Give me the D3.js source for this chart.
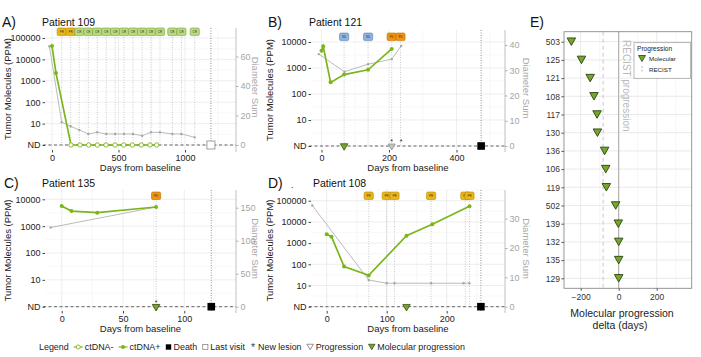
<!DOCTYPE html>
<html><head><meta charset="utf-8">
<script src="https://cdn.jsdelivr.net/npm/d3@7"></script>
<style>
body{margin:0;background:#fff}
svg{display:block}
text{font-family:"Liberation Sans",Arial,Helvetica,sans-serif}
</style>
</head><body>
<svg id="c" width="701" height="357"></svg>
<script>
// ---------------- DATA ----------------
const ctTicks = [1, 10, 100, 1000, 10000, 100000]; // 1 = ND

// Patient 109 (A)
const aCtDays = [0, 30, 143, 211, 276, 341, 406, 474, 539, 604, 671, 737, 787];
const aCtVals = [42000, 2300, 0, 0, 0, 0, 0, 0, 0, 0, 0, 0, 0];
const aDiamDays = [-20, 73, 140, 205, 273, 340, 408, 475, 541, 609, 677, 744, 812, 905, 973, 1073];
const aDiamVals = [67, 15.4, 12.7, 10.2, 7.5, 8.6, 7.5, 7.5, 7.5, 7.5, 6.3, 8.6, 8.6, 7.5, 7.5, 5.2];
const aRespDays = [73, 140, 205, 273, 340, 408, 475, 541, 609, 677, 744, 812, 905, 973, 1073];
const aResp = ["PR","PR","CR","CR","CR","CR","CR","CR","CR","CR","CR","CR","CR","CR","CR"];
const aXTicks = [0, 500, 1000];
const aRTicks = [0, 20, 40, 60];
const aLastVisit = 1195;

// Patient 121 (B)
const bCtDays = [0, 5, 27, 67, 138, 208];
const bCtVals = [4650, 6900, 280, 560, 850, 5400];
const bDiamDays = [-8, 68, 138, 208, 236];
const bDiamVals = [36.4, 29.4, 32.4, 34.4, 39.6];
const bRespDays = [67, 138, 208, 234];
const bResp = ["SD","SD","PD","PD"];
const bMolProg = [67];
const bProg = [208];
const bNewLesion = [208, 236];
const bDeath = 473;
const bXTicks = [0, 200, 400];
const bRTicks = [0, 10, 20, 30, 40];

// Patient 135 (C)
const cCtDays = [0, 8, 29, 77];
const cCtVals = [5600, 3650, 3170, 5170];
const cDiamDays = [-9, 77];
const cDiamVals = [120, 151];
const cRespDays = [77];
const cResp = ["PD"];
const cMolProg = [77];
const cProg = [77];
const cNewLesion = [77];
const cDeath = 122;
const cXTicks = [0, 50, 100];
const cRTicks = [0, 50, 100, 150];

// Patient 108 (D)
const dCtDays = [0, 8, 29, 70, 133, 176, 238];
const dCtVals = [2600, 2000, 78, 30, 2240, 7700, 55000];
const dDiamDays = [-24, 70, 100, 113, 174, 228, 238];
const dDiamVals = [34.5, 9.1, 8, 8, 8, 8, 8];
const dRespDays = [70, 100, 113, 174, 231, 238];
const dResp = ["PR","PR","PR","PR","PR","PR"];
const dMolProg = [133];
const dDeath = 257;
const dXTicks = [0, 100, 200];
const dRTicks = [0, 10, 20, 30];

// Panel E
const eIds = ["503","125","121","108","117","130","136","106","119","502","139","132","135","129"];
const eDelta = [-249, -196, -150, -130, -114, -112, -74, -68, -65, -16, -2, 0, 0, 0];
const eRecistMedian = -82;
const eXTicks = [-200, 0, 200];
const eXMinor = [-300, -100, 100, 300];

// Bottom legend entries
const legendItems = ["ctDNA-", "ctDNA+", "Death", "Last visit", "New lesion", "Progression", "Molecular progression"];
const legendSyms = ["neg", "pos", "death", "last", "ast", "prog", "mol"];

// ---------------- STYLE ----------------
const GREEN = "#7cb51b", TRI = "#74a82a";
const respFill = {PR:"#eab717", CR:"#b9da7c", SD:"#8db2dd", PD:"#f0930f"};
const respStroke = {PR:"#b38600", CR:"#76a237", SD:"#5a82b0", PD:"#bf6800"};
const FONT = "Liberation Sans, Arial, sans-serif";
const fmt = d3.format("d");

const svg = d3.select("#c");

function triPath(w, h){ return `M${-w/2},${-h/2}L${w/2},${-h/2}L0,${h/2}Z`; }

function panel(o){
  const g = svg.append("g");
  const {xs, ys, rs, left, right, top, bottom} = o;
  const nd = ys(1);
  const xt = o.xTicks, step = xt[1]-xt[0];
  const xMinor = d3.range(xt[0]-step*1.5, xt[xt.length-1]+step*2, step).filter(v=>xs(v)>left && xs(v)<right);
  g.selectAll(".xm").data(xMinor).join("line").attr("x1",d=>xs(d)).attr("x2",d=>xs(d))
    .attr("y1",top).attr("y2",bottom).attr("stroke","#f3f3f3").attr("stroke-width",0.6);
  const yMinor = ctTicks.map(v=>v*Math.sqrt(10)).filter(v=>ys(v)>top);
  g.selectAll(".ym").data(yMinor).join("line").attr("x1",left).attr("x2",right)
    .attr("y1",d=>ys(d)).attr("y2",d=>ys(d)).attr("stroke","#f3f3f3").attr("stroke-width",0.6);
  g.selectAll(".xg").data(xt).join("line").attr("x1",d=>xs(d)).attr("x2",d=>xs(d))
    .attr("y1",top).attr("y2",bottom).attr("stroke","#e6e6e6").attr("stroke-width",0.7);
  g.selectAll(".yg").data(o.yTicks).join("line").attr("x1",left).attr("x2",right)
    .attr("y1",d=>ys(d)).attr("y2",d=>ys(d)).attr("stroke","#e6e6e6").attr("stroke-width",0.7);

  g.selectAll(".rl").data(o.respDays).join("line").attr("x1",d=>xs(d)).attr("x2",d=>xs(d))
    .attr("y1",o.badgeY).attr("y2",nd).attr("stroke","#b5b5b5").attr("stroke-width",0.7).attr("stroke-dasharray","1,1.5");
  if(o.endDay!=null){
    g.append("line").attr("x1",xs(o.endDay)).attr("x2",xs(o.endDay)).attr("y1",top).attr("y2",bottom)
      .attr("stroke","#777").attr("stroke-width",0.8).attr("stroke-dasharray","1,1.5");
  }
  g.append("line").attr("x1",left-2).attr("x2",right).attr("y1",nd).attr("y2",nd)
    .attr("stroke","#666").attr("stroke-width",1).attr("stroke-dasharray","3,2.5");

  const ax = g.append("g").attr("transform",`translate(${left},0)`)
    .call(d3.axisLeft(ys).tickValues(o.yTicks).tickFormat(d=>d===1?"ND":fmt(d)).tickSize(2.5).tickPadding(2));
  ax.select(".domain").remove();
  ax.selectAll("text").attr("font-size",9).attr("fill","#222").style("font-family",FONT);
  ax.selectAll("line").attr("stroke","#444");
  const bx = g.append("g").attr("transform",`translate(0,${bottom})`)
    .call(d3.axisBottom(xs).tickValues(xt).tickFormat(fmt).tickSize(2.5).tickPadding(2));
  bx.select(".domain").remove();
  bx.selectAll("text").attr("font-size",9).attr("fill","#222").style("font-family",FONT);
  bx.selectAll("line").attr("stroke","#444");
  g.append("line").attr("x1",right).attr("x2",right).attr("y1",top).attr("y2",bottom+2).attr("stroke","#b0b0b0").attr("stroke-width",0.8);
  const rx = g.append("g").attr("transform",`translate(${right},0)`)
    .call(d3.axisRight(rs).tickValues(o.rTicks).tickFormat(fmt).tickSize(2.5).tickPadding(2));
  rx.select(".domain").remove();
  rx.selectAll("text").attr("font-size",9).attr("fill","#a5a5a5").style("font-family",FONT);
  rx.selectAll("line").attr("stroke","#b0b0b0");

  g.append("text").attr("transform",`translate(${o.ytX},${(top+bottom)/2}) rotate(-90)`).attr("text-anchor","middle")
    .attr("font-size",9.5).attr("fill","#222").text("Tumor Molecules (PPM)");
  g.append("text").attr("transform",`translate(${o.rtX},${(top+bottom)/2-2}) rotate(90)`).attr("text-anchor","middle")
    .attr("font-size",9.5).attr("fill","#a8a8a8").text("Diameter Sum");
  g.append("text").attr("x",(left+right)/2).attr("y",bottom+21).attr("text-anchor","middle")
    .attr("font-size",9.5).attr("fill","#222").text("Days from baseline");
  g.append("text").attr("x",o.lblX).attr("y",o.titleY+1).attr("font-size",14).attr("fill","#111").text(o.label);
  g.append("text").attr("x",o.titleX).attr("y",o.titleY).attr("font-size",10.5).attr("fill","#111").text(o.title);

  const dd = o.diamDays.map((d,i)=>[d,o.diamVals[i]]);
  g.append("path").datum(dd).attr("fill","none").attr("stroke","#b3b3b3").attr("stroke-width",0.9)
    .attr("d",d3.line().x(d=>xs(d[0])).y(d=>rs(d[1])));
  g.selectAll(".dp").data(dd).join("circle").attr("cx",d=>xs(d[0])).attr("cy",d=>rs(d[1])).attr("r",1.2).attr("fill","#a8a8a8");

  const cd = o.ctDays.map((d,i)=>[d,o.ctVals[i]]);
  const cy = v => v>0 ? ys(v) : nd;
  g.append("path").datum(cd).attr("fill","none").attr("stroke",GREEN).attr("stroke-width",1.7)
    .attr("d",d3.line().x(d=>xs(d[0])).y(d=>cy(d[1])));
  g.selectAll(".cp").data(cd).join("circle").attr("cx",d=>xs(d[0])).attr("cy",d=>cy(d[1]))
    .attr("r",d=>d[1]>0?2:2.2).attr("fill",d=>d[1]>0?GREEN:"#fff").attr("stroke",GREEN).attr("stroke-width",d=>d[1]>0?0:0.9);

  (o.prog||[]).forEach(d=>{
    g.append("path").attr("transform",`translate(${xs(d)},${nd+1})`).attr("d",triPath(7,6)).attr("fill","#c4c4c4").attr("stroke","#888").attr("stroke-width",0.7);
  });
  (o.molProg||[]).forEach(d=>{
    g.append("path").attr("transform",`translate(${xs(d)},${nd+1})`).attr("d",triPath(7.5,6.5)).attr("fill",TRI).attr("stroke","#3b5215").attr("stroke-width",0.8);
  });
  (o.newLesion||[]).forEach(d=>{
    g.append("text").attr("x",xs(d)).attr("y",nd-2).attr("text-anchor","middle").attr("font-size",7).attr("fill","#222").text("*");
  });
  if(o.death!=null){
    g.append("rect").attr("x",xs(o.death)-3.8).attr("y",nd-3.8).attr("width",7.6).attr("height",7.6).attr("fill","#000");
  }
  if(o.lastVisit!=null){
    g.append("rect").attr("x",xs(o.lastVisit)-4).attr("y",nd-4).attr("width",8).attr("height",8).attr("fill","#fff").attr("stroke","#888").attr("stroke-width",0.8);
  }
  const bg = g.selectAll(".bd").data(o.respDays.map((d,i)=>[d,o.resp[i]])).join("g")
    .attr("transform",d=>`translate(${xs(d[0])},${o.badgeY})`);
  bg.append("rect").attr("x",-4.6).attr("y",-4).attr("width",9.2).attr("height",7.6).attr("rx",1.5)
    .attr("fill",d=>respFill[d[1]]).attr("stroke",d=>respStroke[d[1]]).attr("stroke-width",0.6);
  bg.append("text").attr("y",1.1).attr("text-anchor","middle").attr("font-size",3).attr("fill","#333").text(d=>d[1]);
}

panel({label:"A)", lblX:2, title:"Patient 109", titleX:42, titleY:26,
  left:45, right:236, top:28, bottom:150, badgeY:32, ytX:11, rtX:252,
  xs:d3.scaleLinear().domain([0,1000]).range([52,185]),
  ys:d3.scaleLog().domain([1,100000]).range([145,38]),
  rs:d3.scaleLinear().domain([0,60]).range([145,56.5]),
  xTicks:aXTicks, yTicks:ctTicks, rTicks:aRTicks,
  ctDays:aCtDays, ctVals:aCtVals, diamDays:aDiamDays, diamVals:aDiamVals,
  respDays:aRespDays, resp:aResp, endDay:aLastVisit, lastVisit:aLastVisit});

panel({label:"B)", lblX:268, title:"Patient 121", titleX:309, titleY:26,
  left:311, right:505, top:30, bottom:150, badgeY:37, ytX:273, rtX:523,
  xs:d3.scaleLinear().domain([0,400]).range([321.5,456.5]),
  ys:d3.scaleLog().domain([1,10000]).range([146,42]),
  rs:d3.scaleLinear().domain([0,40]).range([146,45]),
  xTicks:bXTicks, yTicks:ctTicks.slice(0,5), rTicks:bRTicks,
  ctDays:bCtDays, ctVals:bCtVals, diamDays:bDiamDays, diamVals:bDiamVals,
  respDays:bRespDays, resp:bResp, endDay:bDeath, death:bDeath,
  molProg:bMolProg, prog:bProg, newLesion:bNewLesion});

panel({label:"C)", lblX:4, title:"Patient 135", titleX:42, titleY:187,
  left:45, right:236, top:190, bottom:311, badgeY:196, ytX:11, rtX:252,
  xs:d3.scaleLinear().domain([0,100]).range([61.7,184.3]),
  ys:d3.scaleLog().domain([1,10000]).range([306.7,199.3]),
  rs:d3.scaleLinear().domain([0,150]).range([306.7,207.7]),
  xTicks:cXTicks, yTicks:ctTicks.slice(0,5), rTicks:cRTicks,
  ctDays:cCtDays, ctVals:cCtVals, diamDays:cDiamDays, diamVals:cDiamVals,
  respDays:cRespDays, resp:cResp, endDay:cDeath, death:cDeath,
  prog:cProg, molProg:cMolProg, newLesion:cNewLesion});

panel({label:"D)", lblX:268, title:"Patient 108", titleX:313, titleY:187,
  left:311, right:505, top:190, bottom:311, badgeY:196, ytX:273, rtX:523,
  xs:d3.scaleLinear().domain([0,200]).range([326.7,446.7]),
  ys:d3.scaleLog().domain([1,100000]).range([306.7,200.7]),
  rs:d3.scaleLinear().domain([0,30]).range([306.7,218.7]),
  xTicks:dXTicks, yTicks:ctTicks, rTicks:dRTicks,
  ctDays:dCtDays, ctVals:dCtVals, diamDays:dDiamDays, diamVals:dDiamVals,
  respDays:dRespDays, resp:dResp, endDay:dDeath, death:dDeath,
  molProg:dMolProg});
svg.append("text").attr("x",291).attr("y",188).attr("font-size",9).attr("fill","#333").text(".");

// ---------------- PANEL E ----------------
(function(){
  const L=564, R=691.7, T=31.7, B=288.3;
  const g = svg.append("g");
  const xs = d3.scaleLinear().domain([-200,200]).range([580.7,656.7]);
  const ys = d3.scalePoint().domain(eIds).range([41.7,278.3]);
  g.selectAll(".xm").data(eXMinor).join("line").attr("x1",d=>xs(d)).attr("x2",d=>xs(d)).attr("y1",T).attr("y2",B).attr("stroke","#f2f2f2").attr("stroke-width",0.7);
  g.selectAll(".xg").data(eXTicks).join("line").attr("x1",d=>xs(d)).attr("x2",d=>xs(d)).attr("y1",T).attr("y2",B).attr("stroke","#e4e4e4").attr("stroke-width",0.8);
  g.selectAll(".yg").data(eIds).join("line").attr("x1",L).attr("x2",R).attr("y1",d=>ys(d)).attr("y2",d=>ys(d)).attr("stroke","#e4e4e4").attr("stroke-width",0.8);
  g.append("line").attr("x1",xs(eRecistMedian)).attr("x2",xs(eRecistMedian)).attr("y1",T).attr("y2",B)
    .attr("stroke","#c8c8c8").attr("stroke-width",1).attr("stroke-dasharray","4,3");
  g.append("line").attr("x1",xs(0)).attr("x2",xs(0)).attr("y1",T).attr("y2",B).attr("stroke","#a8a8a8").attr("stroke-width",1);
  g.append("text").attr("transform",`translate(${xs(0)+4},40) rotate(90)`).attr("font-size",10).attr("fill","#b8b8b8").text("RECIST progression");
  g.append("rect").attr("x",L).attr("y",T).attr("width",R-L).attr("height",B-T).attr("fill","none").attr("stroke","#8a8a8a").attr("stroke-width",0.9);
  g.selectAll(".tr").data(eIds.map((id,i)=>[id,eDelta[i]])).join("path")
    .attr("transform",d=>`translate(${xs(d[1])},${ys(d[0])})`).attr("d",triPath(8.5,7.5))
    .attr("fill",TRI).attr("stroke","#2e3f10").attr("stroke-width",0.9);
  const ay = g.append("g").attr("transform",`translate(${L},0)`).call(d3.axisLeft(ys).tickSize(2.5).tickPadding(1.5));
  ay.select(".domain").remove();
  ay.selectAll("text").attr("font-size",8.5).attr("fill","#333").style("font-family",FONT);
  ay.selectAll("line").attr("stroke","#555");
  const axb = g.append("g").attr("transform",`translate(0,${B})`).call(d3.axisBottom(xs).tickValues(eXTicks).tickSize(2.5).tickPadding(3).tickFormat(d=>d<0?"\u2212"+Math.abs(d):fmt(d)));
  axb.select(".domain").remove();
  axb.selectAll("text").attr("font-size",8.5).attr("fill","#333").style("font-family",FONT);
  axb.selectAll("line").attr("stroke","#555");
  g.append("text").attr("x",622).attr("y",317).attr("text-anchor","middle").attr("font-size",10.5).attr("fill","#222").text("Molecular progression");
  g.append("text").attr("x",620).attr("y",329).attr("text-anchor","middle").attr("font-size",10.5).attr("fill","#222").text("delta (days)");
  g.append("text").attr("x",530).attr("y",27).attr("font-size",14).attr("fill","#111").text("E)");
  g.append("rect").attr("x",634).attr("y",42.7).attr("width",56.7).attr("height",35.6).attr("fill","#fff").attr("stroke","#999").attr("stroke-width",0.7);
  g.append("text").attr("x",637).attr("y",51).attr("font-size",6.6).attr("fill","#222").text("Progression");
  g.append("path").attr("transform","translate(642,58.5)").attr("d",triPath(7,6)).attr("fill",TRI).attr("stroke","#2e3f10").attr("stroke-width",0.8);
  g.append("text").attr("x",649).attr("y",60.5).attr("font-size",6.2).attr("fill","#222").text("Molecular");
  g.append("line").attr("x1",642).attr("x2",642).attr("y1",66).attr("y2",72).attr("stroke","#bbb").attr("stroke-width",1).attr("stroke-dasharray","2,1.5");
  g.append("text").attr("x",649).attr("y",71.5).attr("font-size",6.2).attr("fill","#222").text("RECIST");
})();

// ---------------- BOTTOM LEGEND (flow layout) ----------------
(function(){
  const g = svg.append("g");
  const y = 347, x0 = 39, x1 = 465;
  const symW = {neg:9, pos:9, death:6, last:6, ast:6, prog:7, mol:7};
  const symGap = 2, itemGap = 5, titleGap = 5;
  // measure at 10px
  const meas = s => { const t = g.append("text").attr("font-size",10).text(s); const w = t.node().getComputedTextLength(); t.remove(); return w; };
  const texts = ["Legend"].concat(legendItems);
  const w10 = texts.map(meas);
  const fixed = titleGap + legendSyms.reduce((a,s)=>a+symW[s]+symGap,0) + itemGap*(legendItems.length-1);
  const fs = Math.min(9.5, 10*(x1-x0-fixed)/d3.sum(w10));
  const k = fs/10;
  let x = x0;
  const t = (xx, s) => g.append("text").attr("x",xx).attr("y",y+3.2).attr("font-size",fs).attr("fill","#222").text(s);
  t(x, "Legend"); x += w10[0]*k + titleGap;
  legendSyms.forEach((s,i)=>{
    const cx = x + symW[s]/2;
    if(s==="neg"||s==="pos"){
      g.append("line").attr("x1",x).attr("x2",x+symW[s]).attr("y1",y).attr("y2",y).attr("stroke",GREEN).attr("stroke-width",1.2);
      g.append("circle").attr("cx",cx).attr("cy",y).attr("r",2).attr("fill",s==="neg"?"#fff":GREEN).attr("stroke",GREEN).attr("stroke-width",s==="neg"?0.9:0);
    } else if(s==="death"){
      g.append("rect").attr("x",cx-2.7).attr("y",y-2.7).attr("width",5.4).attr("height",5.4).attr("fill","#000");
    } else if(s==="last"){
      g.append("rect").attr("x",cx-2.6).attr("y",y-2.6).attr("width",5.2).attr("height",5.2).attr("fill","#fff").attr("stroke","#777").attr("stroke-width",0.7);
    } else if(s==="ast"){
      g.append("text").attr("x",cx).attr("y",y+4.3).attr("text-anchor","middle").attr("font-size",10.5).attr("fill","#444").text("*");
    } else if(s==="prog"){
      g.append("path").attr("transform",`translate(${cx},${y})`).attr("d",triPath(6.5,5.5)).attr("fill","#fff").attr("stroke","#777").attr("stroke-width",0.8);
    } else {
      g.append("path").attr("transform",`translate(${cx},${y})`).attr("d",triPath(6.5,5.5)).attr("fill",TRI).attr("stroke","#2e3f10").attr("stroke-width",0.7);
    }
    x += symW[s] + symGap;
    t(x, legendItems[i]);
    x += w10[i+1]*k + itemGap;
  });
})();
</script>
</body></html>
